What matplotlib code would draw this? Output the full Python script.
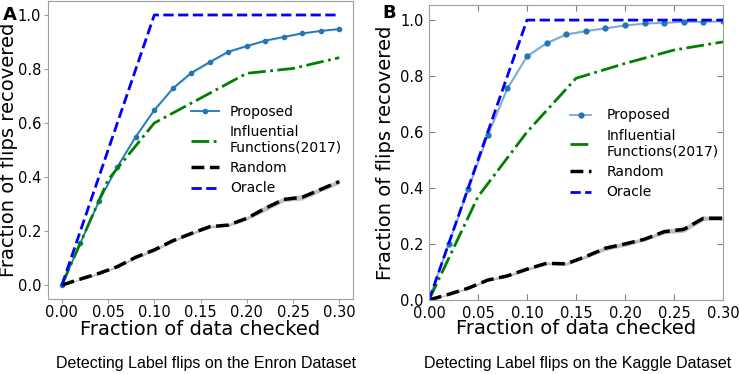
import numpy as np
import matplotlib
matplotlib.use("Agg")
import matplotlib.pyplot as plt

# --- 데이터 ---
x_fine = [0.00, 0.02, 0.04, 0.06, 0.08, 0.10, 0.12, 0.14, 0.16, 0.18, 0.20, 0.22, 0.24, 0.26, 0.28, 0.30]
x_coarse = [0.00, 0.05, 0.10, 0.15, 0.20, 0.25, 0.30]
x_oracle = [0.00, 0.10, 0.30]

# Panel A: Enron
enron_proposed = [0.00, 0.155, 0.310, 0.438, 0.550, 0.648, 0.728, 0.786, 0.826, 0.864, 0.885, 0.905, 0.919, 0.932, 0.941, 0.948]
enron_proposed_sd = [0.0, 0.002, 0.003, 0.004, 0.004, 0.004, 0.005, 0.006, 0.006, 0.005, 0.004, 0.004, 0.004, 0.003, 0.003, 0.003]
enron_influence = [0.00, 0.390, 0.600, 0.692, 0.784, 0.802, 0.842]
enron_random = [0.00, 0.022, 0.043, 0.068, 0.103, 0.130, 0.164, 0.191, 0.216, 0.222, 0.247, 0.284, 0.317, 0.325, 0.354, 0.383]
enron_random_sd = [0.0, 0.003, 0.004, 0.004, 0.005, 0.005, 0.005, 0.005, 0.005, 0.005, 0.006, 0.010, 0.008, 0.010, 0.008, 0.008]
enron_oracle = [0.00, 1.00, 1.00]

# Panel B: Kaggle
kaggle_proposed = [0.00, 0.200, 0.395, 0.589, 0.756, 0.871, 0.918, 0.949, 0.961, 0.971, 0.981, 0.988, 0.990, 0.994, 0.994, 0.996]
kaggle_proposed_sd = [0.0, 0.004, 0.005, 0.006, 0.006, 0.006, 0.005, 0.004, 0.004, 0.003, 0.003, 0.003, 0.002, 0.002, 0.002, 0.002]
kaggle_influence = [0.00, 0.369, 0.600, 0.792, 0.845, 0.893, 0.922]
kaggle_random = [0.00, 0.020, 0.042, 0.071, 0.086, 0.110, 0.131, 0.129, 0.155, 0.185, 0.200, 0.217, 0.244, 0.252, 0.292, 0.292]
kaggle_random_sd = [0.0, 0.003, 0.004, 0.004, 0.005, 0.005, 0.005, 0.005, 0.006, 0.008, 0.008, 0.006, 0.008, 0.010, 0.008, 0.008]
kaggle_oracle = [0.00, 1.00, 1.00]

labels = ["Proposed", "Influential\nFunctions(2017)", "Random", "Oracle"]
captions = ["Detecting Label flips on the Enron Dataset", "Detecting Label flips on the Kaggle Dataset"]

fig = plt.figure(figsize=(7.4, 3.74), dpi=100)
axA = fig.add_axes([0.0649, 0.2018, 0.4122, 0.7942])
axB = fig.add_axes([0.5797, 0.198, 0.3973, 0.7887])


def draw(ax, proposed, p_sd, influence, random, r_sd, oracle, prop_line, msize):
    xf = np.array(x_fine)
    p = np.array(proposed)
    ps = np.array(p_sd)
    r = np.array(random)
    rs = np.array(r_sd)
    ax.fill_between(xf, p - ps, p + ps, color='#1f77b4', alpha=0.25, lw=0)
    ax.plot(xf, p, color=prop_line, marker='o', markersize=msize, mfc='#1f77b4',
            mec='#1f77b4', lw=1.3, label=labels[0])
    ax.plot(x_coarse, influence, color='green', linestyle='-.', lw=2, label=labels[1])
    ax.fill_between(xf, r - rs, r + rs, color='gray', alpha=0.5, lw=0)
    ax.plot(xf, r, color='black', linestyle='--', lw=2.5, label=labels[2])
    ax.plot(x_oracle, oracle, color='blue', linestyle='--', lw=2, label=labels[3])
    for s in ax.spines.values():
        s.set_color('#a0a0a0')
    ax.set_xticks([0.00, 0.05, 0.10, 0.15, 0.20, 0.25, 0.30])
    ax.set_xticklabels(['0.00', '0.05', '0.10', '0.15', '0.20', '0.25', '0.30'])
    ax.set_yticks([0.0, 0.2, 0.4, 0.6, 0.8, 1.0])
    ax.set_xlabel("Fraction of data checked", fontsize=14)
    ax.set_ylabel("Fraction of flips recovered", fontsize=14)


# --- Panel A ---
draw(axA, enron_proposed, enron_proposed_sd, enron_influence, enron_random,
     enron_random_sd, enron_oracle, '#1f77b4', 3)
axA.set_xlim(-0.015, 0.315)
axA.set_ylim(-0.05, 1.05)
axA.tick_params(direction='out', length=3, color='#a0a0a0', labelsize=10.5, pad=2)
axA.yaxis.set_label_coords(-0.097, 0.5)
axA.xaxis.set_label_coords(0.5, -0.073)
axA.legend(loc='center left', bbox_to_anchor=(0.469, 0.5), frameon=False,
           fontsize=10, borderaxespad=0, borderpad=0, handlelength=2.0,
           labelspacing=0.45, numpoints=1)

# --- Panel B ---
draw(axB, kaggle_proposed, kaggle_proposed_sd, kaggle_influence, kaggle_random,
     kaggle_random_sd, kaggle_oracle, '#7fa8d0', 3.5)
axB.set_xlim(0, 0.30)
axB.set_ylim(0, 1.054)
axB.tick_params(direction='in', length=4, color='#808080', labelsize=10.5, pad=4,
                top=True, right=True)
axB.yaxis.set_label_coords(-0.114, 0.5)
axB.xaxis.set_label_coords(0.5, -0.065)
axB.legend(loc='center left', bbox_to_anchor=(0.48, 0.495), frameon=False,
           fontsize=10, borderaxespad=0, borderpad=0, handlelength=1.5,
           handletextpad=1.1, labelspacing=0.45)

# 패널 라벨
fig.text(0.004, 0.985, "A", fontsize=13, fontweight='bold', va='top', ha='left')
fig.text(0.517, 0.988, "B", fontsize=13, fontweight='bold', va='top', ha='left')

# 캡션
fig.text(0.279, 0.029, captions[0], fontsize=11.5, family='Liberation Sans',
         ha='center', va='center')
fig.text(0.781, 0.029, captions[1], fontsize=11.5, family='Liberation Sans',
         ha='center', va='center')

fig.savefig("out.png", dpi=100)
